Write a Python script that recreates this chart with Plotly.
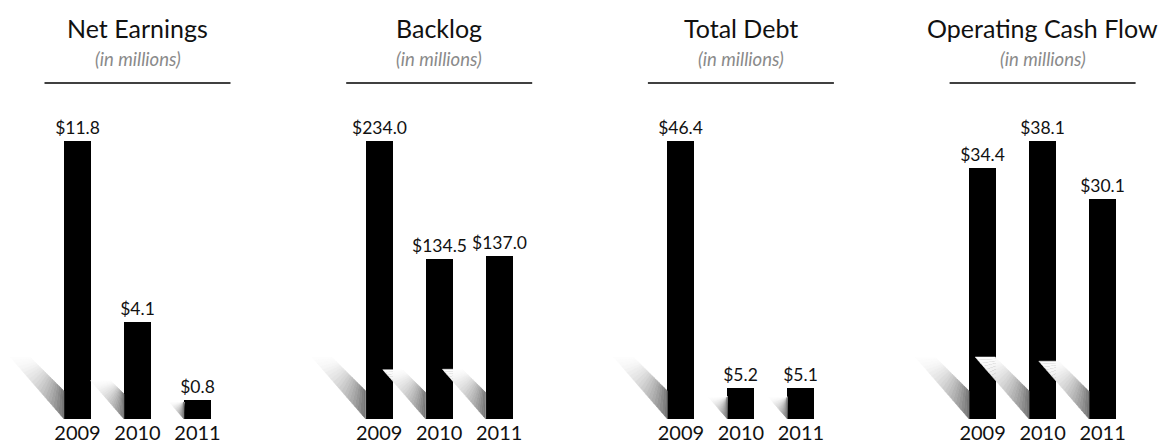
import math
import plotly.graph_objects as go

# ---- data ----
years = ["2009", "2010", "2011"]
titles = ["Net Earnings", "Backlog", "Total Debt", "Operating Cash Flow"]
subtitle = "(in millions)"
net_earnings = [11.8, 4.1, 0.8]
backlog = [234.0, 134.5, 137.0]
total_debt = [46.4, 5.2, 5.1]
operating_cash_flow = [34.4, 38.1, 30.1]

panels = [net_earnings, backlog, total_debt, operating_cash_flow]

# ---- layout constants ----
W, H = 1163, 448
MT, MB = 141, 29
PLOT_H = H - MT - MB           # px height of plot area
UNIT_PX = 60.0                 # px per x unit (bar spacing)
PANEL_GAP = 301.7 / UNIT_PX    # x units between panels
X0_PX = 77.5                   # px of first bar centre
BAR_W = 0.45
FONT = "Lato"
N_STRIPS = 20

fig = go.Figure()

def px_to_paper_y(ypx):
    return (H - MB - ypx) / PLOT_H

def lerp(a, b, t):
    return (a[0] + (b[0] - a[0]) * t, a[1] + (b[1] - a[1]) * t)

# decorative diagonal shadows first (behind bars), derived from bar heights
for p, vals in enumerate(panels):
    vmax = max(vals)
    yref = "y" if p == 0 else f"y{p+1}"
    for i, v in enumerate(vals):
        xc = p * PANEL_GAP + i
        xl_px = xc * UNIT_PX - BAR_W * UNIT_PX / 2
        bh = v / vmax * PLOT_H
        sh = min(3.9 * math.sqrt(bh), 62.0)          # shadow height px
        dx = sh * 0.87                                # horizontal run px
        band = min(20.0, dx)
        A = (xl_px - dx, sh)
        B = (xl_px - dx + band, sh)
        C = (xl_px, max(0.0, sh - (dx - band)))
        D = (xl_px, 0.0)
        for k in range(N_STRIPS):
            t0, t1 = k / N_STRIPS, (k + 1) / N_STRIPS
            P = [lerp(A, D, t0), lerp(A, D, t1), lerp(B, C, t1), lerp(B, C, t0)]
            tm = (t0 + t1) / 2
            g = int(round(253 - 140 * tm ** 1.7))
            col = f"rgb({g},{g},{g})"
            xs = [q[0] / UNIT_PX for q in P] + [P[0][0] / UNIT_PX]
            ys = [q[1] / PLOT_H * vmax for q in P] + [P[0][1] / PLOT_H * vmax]
            fig.add_trace(go.Scatter(
                x=xs, y=ys, yaxis=yref, xaxis="x", mode="lines",
                line=dict(width=0.5, color=col), fill="toself", fillcolor=col,
                hoverinfo="skip", showlegend=False))

for p, vals in enumerate(panels):
    yref = "y" if p == 0 else f"y{p+1}"
    xs = [p * PANEL_GAP + i for i in range(len(vals))]
    fig.add_trace(go.Bar(
        x=xs, y=vals, yaxis=yref, xaxis="x", width=BAR_W,
        marker=dict(color="black", line=dict(width=0)),
        text=[f"${v:.1f}" for v in vals], textposition="outside",
        textfont=dict(family=FONT, size=17.5, color="#111"),
        constraintext="none", cliponaxis=False, showlegend=False))

tickvals, ticktext = [], []
for p in range(len(panels)):
    for i, y in enumerate(years):
        tickvals.append(p * PANEL_GAP + i)
        ticktext.append(y)

layout = dict(
    width=W, height=H, margin=dict(l=0, r=0, t=MT, b=MB),
    paper_bgcolor="white", plot_bgcolor="white",
    bargap=0, showlegend=False,
    xaxis=dict(range=[-X0_PX / UNIT_PX, (W - X0_PX) / UNIT_PX],
               tickvals=tickvals, ticktext=ticktext,
               tickfont=dict(family=FONT, size=20, color="#111"),
               showgrid=False, zeroline=False, showline=False, ticks=""),
)
for p, vals in enumerate(panels):
    key = "yaxis" if p == 0 else f"yaxis{p+1}"
    ax = dict(range=[0, max(vals)], visible=False, domain=[0, 1], fixedrange=True)
    if p > 0:
        ax["overlaying"] = "y"
    layout[key] = ax
fig.update_layout(**layout)

for p, t in enumerate(titles):
    c = p * PANEL_GAP + 1
    fig.add_annotation(x=c, xref="x", y=px_to_paper_y(28), yref="paper",
                       text=t, showarrow=False, yanchor="middle",
                       font=dict(family=FONT, size=25, color="#111"))
    fig.add_annotation(x=c, xref="x", y=px_to_paper_y(59), yref="paper",
                       text=f"<i>{subtitle}</i>", showarrow=False, yanchor="middle",
                       font=dict(family=FONT, size=18.5, color="#8a8a8a"))
    fig.add_shape(type="line", xref="x", yref="paper",
                  x0=c - 93 / UNIT_PX, x1=c + 93 / UNIT_PX,
                  y0=px_to_paper_y(83), y1=px_to_paper_y(83),
                  line=dict(color="black", width=1.5))

fig.write_html("out.html")
